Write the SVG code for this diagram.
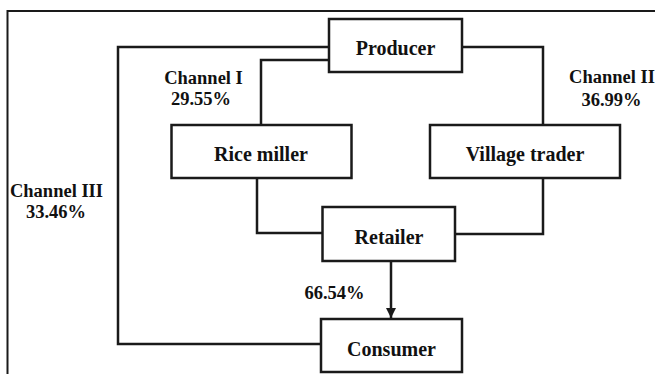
<svg xmlns="http://www.w3.org/2000/svg" width="655" height="374" viewBox="0 0 655 374">
<defs>
<style>
.box{fill:#fff;stroke:#1a1a1a;stroke-width:2.5}
.t{font-family:"Liberation Serif","Times New Roman",serif;font-weight:bold;font-size:20px;fill:#111;text-anchor:middle}
.l{font-family:"Liberation Serif","Times New Roman",serif;font-weight:bold;font-size:18.5px;fill:#111;text-anchor:middle}
.c{fill:none;stroke:#1a1a1a;stroke-width:2.5}
</style>
<marker id="ah" viewBox="0 0 10 10" refX="10" refY="5" markerWidth="10" markerHeight="10" markerUnits="userSpaceOnUse" orient="auto">
<path d="M0,0 L10,5 L0,10 Z" fill="#1a1a1a"/>
</marker>
</defs>
<rect width="655" height="374" fill="#fff"/>
<path d="M7.5,374 V11 H655" fill="none" stroke="#1a1a1a" stroke-width="2"/>
<g id="connectors">
<path class="c" d="M329,47 H118 V344 H321"/>
<path class="c" d="M329,60 H261 V125"/>
<path class="c" d="M257,178 V233 H323"/>
<path class="c" d="M462,47 H543 V125"/>
<path class="c" d="M543,178 V234 H455"/>
<path class="c" d="M391,261 V318" marker-end="url(#ah)"/>
</g>
<g id="producer"><rect class="box" x="329" y="19" width="133" height="53"/><text class="t" x="395.5" y="55">Producer</text></g>
<g id="rice-miller"><rect class="box" x="171.5" y="125" width="180" height="53"/><text class="t" x="261" y="160.5">Rice miller</text></g>
<g id="village-trader"><rect class="box" x="430" y="125" width="190" height="53"/><text class="t" x="525" y="160.5">Village trader</text></g>
<g id="retailer"><rect class="box" x="322.5" y="207" width="132.5" height="54"/><text class="t" x="389" y="244">Retailer</text></g>
<g id="consumer"><rect class="box" x="321" y="319" width="141" height="53"/><text class="t" x="391.5" y="356">Consumer</text></g>
<g id="labels">
<text class="l" x="203.5" y="84">Channel I</text>
<text class="l" x="201" y="105">29.55%</text>
<text class="l" x="612" y="83">Channel II</text>
<text class="l" x="611.5" y="106">36.99%</text>
<text class="l" x="56.5" y="196.5">Channel III</text>
<text class="l" x="56" y="217.5">33.46%</text>
<text class="l" x="334.5" y="299">66.54%</text>
</g>
</svg>
